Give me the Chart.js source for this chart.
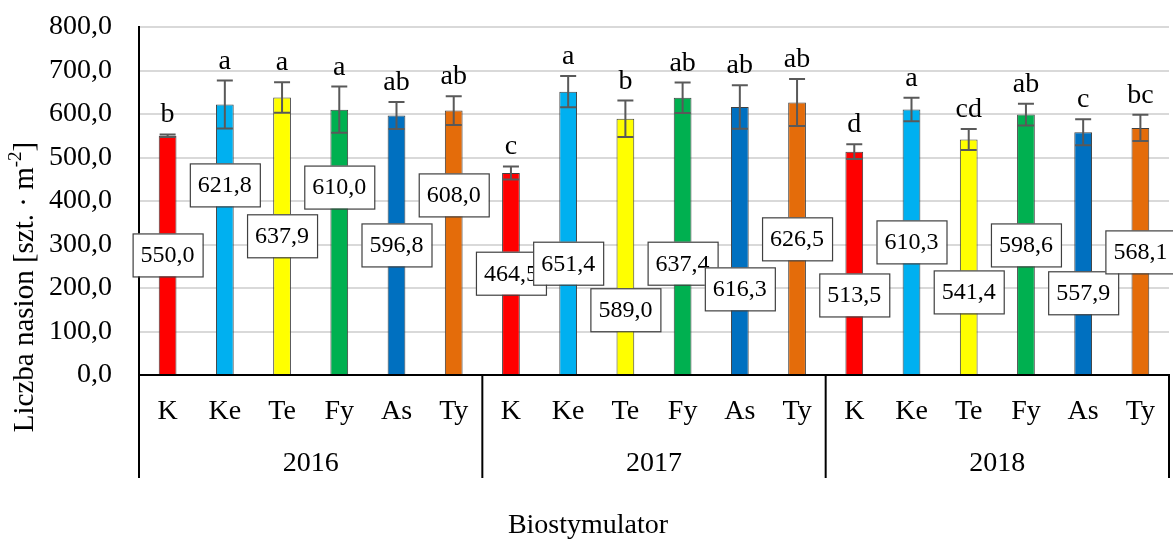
<!DOCTYPE html>
<html>
<head>
<meta charset="utf-8">
<script src="https://cdn.jsdelivr.net/npm/chart.js@4.4.1/dist/chart.umd.min.js"></script>
<style>
  body { margin: 0; background: #fff; }
  #wrap { width: 1173px; height: 539px; }
</style>
</head>
<body>
<div id="wrap"><canvas id="chart" width="1173" height="539"></canvas></div>
<script>
// dane
var years = ['2016', '2017', '2018'];
var treatments = ['K', 'Ke', 'Te', 'Fy', 'As', 'Ty'];
var values = [550.0, 621.8, 637.9, 610.0, 596.8, 608.0,
              464.5, 651.4, 589.0, 637.4, 616.3, 626.5,
              513.5, 610.3, 541.4, 598.6, 557.9, 568.1];
var errors = [3, 55, 35, 53, 31, 33,
              15, 36, 42, 35, 50, 54,
              17, 27, 24, 25, 30, 30];
var letters = ['b', 'a', 'a', 'a', 'ab', 'ab',
               'c', 'a', 'b', 'ab', 'ab', 'ab',
               'd', 'a', 'cd', 'ab', 'c', 'bc'];
var yTicks = [0, 100, 200, 300, 400, 500, 600, 700, 800];

// gdzie stoja ramki z etykietami (w jednostkach osi Y)
var labelAt = [276, 437, 320, 432, 299, 414,
               234, 257, 150, 257, 198, 313,
               184, 306, 191, 299, 189, 283];
var treatmentColors = ['#ff0000', '#00b0f0', '#ffff00', '#00b050', '#0070c0', '#e46c0a'];

var labels = [];
var colors = [];
years.forEach(function (y) {
    treatments.forEach(function (t, i) {
        labels.push(t);
        colors.push(treatmentColors[i]);
    });
});

function fmt(v) {
    return v.toFixed(1).replace('.', ',');
}

var FONT = '"Liberation Serif", "Times New Roman", serif';

// slupki bledu, litery, ramki z wartosciami, os X z latami
var extras = {
    id: 'extras',
    afterDatasetsDraw: function (chart) {
        var ctx = chart.ctx;
        var x = chart.scales.x, y = chart.scales.y;
        ctx.save();
        // error bars
        ctx.strokeStyle = '#595959';
        ctx.lineWidth = 2;
        values.forEach(function (v, i) {
            var px = x.getPixelForValue(i);
            var top = y.getPixelForValue(v + errors[i]);
            var bot = y.getPixelForValue(v - errors[i]);
            ctx.beginPath();
            ctx.moveTo(px, top); ctx.lineTo(px, bot);
            ctx.moveTo(px - 8, top); ctx.lineTo(px + 8, top);
            ctx.moveTo(px - 8, bot); ctx.lineTo(px + 8, bot);
            ctx.stroke();
        });
        // litery
        ctx.fillStyle = '#000';
        ctx.font = '28px ' + FONT;
        ctx.textAlign = 'center';
        ctx.textBaseline = 'alphabetic';
        values.forEach(function (v, i) {
            var px = x.getPixelForValue(i);
            var top = y.getPixelForValue(v + errors[i]);
            ctx.fillText(letters[i], px, top - 12);
        });
        // ramki
        ctx.font = '24px ' + FONT;
        ctx.textBaseline = 'middle';
        values.forEach(function (v, i) {
            var px = x.getPixelForValue(i);
            var py = y.getPixelForValue(labelAt[i]);
            var w = 70, h = 43;
            ctx.fillStyle = '#fff';
            ctx.fillRect(px - w / 2, py - h / 2, w, h);
            ctx.strokeStyle = '#404040';
            ctx.lineWidth = 1.2;
            ctx.strokeRect(px - w / 2 + 0.5, py - h / 2 + 0.5, w, h);
            ctx.fillStyle = '#000';
            ctx.fillText(fmt(v), px, py + 1);
        });
        ctx.restore();
    },
    afterDraw: function (chart) {
        var ctx = chart.ctx;
        var x = chart.scales.x;
        var area = chart.chartArea;
        var step = x.getPixelForValue(1) - x.getPixelForValue(0);
        ctx.save();
        ctx.strokeStyle = '#000';
        ctx.lineWidth = 2;
        ctx.fillStyle = '#000';
        ctx.font = '28px ' + FONT;
        ctx.textAlign = 'center';
        ctx.textBaseline = 'middle';
        for (var g = 0; g <= years.length; g++) {
            var lx = x.getPixelForValue(g * 6) - step / 2;
            if (g === years.length) lx = area.right;
            ctx.beginPath();
            ctx.moveTo(lx, area.bottom);
            ctx.lineTo(lx, 478);
            ctx.stroke();
        }
        years.forEach(function (yr, g) {
            var cx = (x.getPixelForValue(g * 6) + x.getPixelForValue(g * 6 + 5)) / 2;
            ctx.fillText(yr, cx, 464);
        });
        // tytul osi X
        ctx.fillText('Biostymulator', 588, 526);
        // tytul osi Y z indeksem gornym
        ctx.translate(25, 287);
        ctx.rotate(-Math.PI / 2);
        var main = 'Liczba nasion [szt. \u00b7 m';
        var sup = '-2';
        var tail = ']';
        ctx.font = '29px ' + FONT;
        var wMain = ctx.measureText(main).width;
        var wTail = ctx.measureText(tail).width;
        ctx.font = '19px ' + FONT;
        var wSup = ctx.measureText(sup).width;
        var total = wMain + wSup + wTail;
        var sx = -total / 2;
        ctx.textAlign = 'left';
        ctx.font = '29px ' + FONT;
        ctx.fillText(main, sx, 0);
        ctx.font = '19px ' + FONT;
        ctx.fillText(sup, sx + wMain, -9);
        ctx.font = '29px ' + FONT;
        ctx.fillText(tail, sx + wMain + wSup, 0);
        ctx.restore();
    }
};

var chart = new Chart(document.getElementById('chart').getContext('2d'), {
    type: 'bar',
    data: {
        labels: labels,
        datasets: [{
            data: values,
            backgroundColor: colors,
            borderColor: '#404040',
            borderWidth: 1,
            categoryPercentage: 1,
            barPercentage: 0.31
        }]
    },
    options: {
        responsive: false,
        animation: false,
        layout: { padding: { top: 27, right: 4, left: 0, bottom: 0 } },
        plugins: {
            legend: { display: false },
            tooltip: { enabled: false }
        },
        scales: {
            x: {
                grid: { display: false, drawTicks: false },
                border: { color: '#000', width: 2 },
                ticks: {
                    color: '#000',
                    font: { family: FONT, size: 28 },
                    padding: 20,
                    maxRotation: 0,
                    autoSkip: false
                },
                afterFit: function (s) {
                    s.height = 164;
                    s.paddingLeft = 0;
                    s.paddingRight = 0;
                }
            },
            y: {
                min: 0,
                max: 800,
                afterBuildTicks: function (s) {
                    s.ticks = yTicks.map(function (v) { return { value: v }; });
                },
                grid: { color: '#d9d9d9', lineWidth: 2, drawTicks: false },
                border: { color: '#000', width: 2 },
                ticks: {
                    color: '#000',
                    font: { family: FONT, size: 28 },
                    padding: 27,
                    callback: function (v) { return fmt(v); }
                },
                afterFit: function (s) {
                    s.width = 139;
                    s.paddingTop = 0;
                    s.paddingBottom = 0;
                }
            }
        }
    },
    plugins: [extras]
});
</script>
</body>
</html>
